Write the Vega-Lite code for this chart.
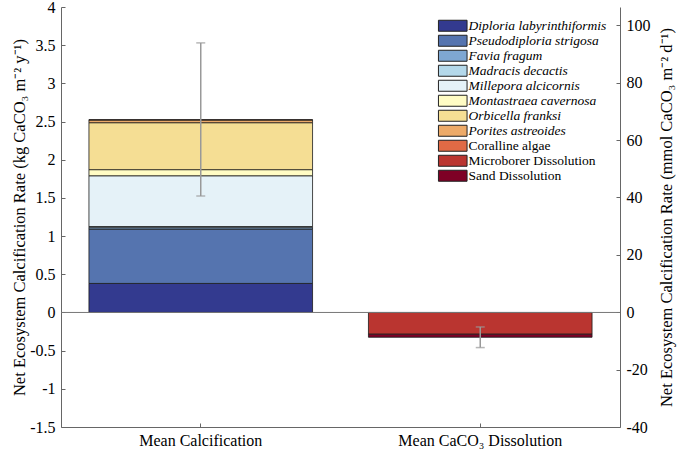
{
  "$schema": "https://vega.github.io/schema/vega-lite/v6.json",
  "description": "Net ecosystem calcification budget",
  "background": "white",
  "autosize": {"type": "none"},
  "padding": {"left": 61, "top": 7, "right": 59, "bottom": 26},
  "width": 559,
  "height": 420,
  "config": {
    "font": "Liberation Serif",
    "view": {"stroke": null},
    "axis": {
      "labelFont": "Liberation Serif",
      "titleFont": "Liberation Serif",
      "titleFontWeight": "normal",
      "labelColor": "black",
      "titleColor": "black",
      "domainColor": "#666666",
      "tickColor": "#666666",
      "labelOverlap": false,
      "grid": false
    }
  },
  "datasets": {
    "components": [
      {"group": "Mean Calcification", "component": "Diploria labyrinthiformis", "rank": 1, "value": 0.38},
      {"group": "Mean Calcification", "component": "Pseudodiploria strigosa", "rank": 2, "value": 0.71},
      {"group": "Mean Calcification", "component": "Favia fragum", "rank": 3, "value": 0.02},
      {"group": "Mean Calcification", "component": "Madracis decactis", "rank": 4, "value": 0.015},
      {"group": "Mean Calcification", "component": "Millepora alcicornis", "rank": 5, "value": 0.665},
      {"group": "Mean Calcification", "component": "Montastraea cavernosa", "rank": 6, "value": 0.08},
      {"group": "Mean Calcification", "component": "Orbicella franksi", "rank": 7, "value": 0.615},
      {"group": "Mean Calcification", "component": "Porites astreoides", "rank": 8, "value": 0.035},
      {"group": "Mean Calcification", "component": "Coralline algae", "rank": 9, "value": 0.005},
      {"group": "Mean CaCO₃ Dissolution", "component": "Microborer Dissolution", "rank": 10, "value": -0.285},
      {"group": "Mean CaCO₃ Dissolution", "component": "Sand Dissolution", "rank": 11, "value": -0.04}
    ],
    "errors": [
      {"group": "Mean Calcification", "lo": 1.525, "hi": 3.53},
      {"group": "Mean CaCO₃ Dissolution", "lo": -0.46, "hi": -0.19}
    ],
    "anchor": [{"v": 0}]
  },
  "layer": [
    {
      "layer": [
        {
          "data": {"name": "components"},
          "mark": {"type": "bar", "stroke": "#1a1a1a", "strokeWidth": 0.8},
          "encoding": {
            "x": {
              "field": "group",
              "type": "nominal",
              "sort": null,
              "scale": {"domain": ["Mean Calcification", "Mean CaCO₃ Dissolution"], "paddingInner": 0.2, "paddingOuter": 0.1},
              "axis": {"title": null, "labelAngle": 0, "labelFontSize": 16, "tickSize": -4, "labelPadding": 9}
            },
            "y": {
              "field": "value",
              "type": "quantitative",
              "stack": "zero",
              "scale": {"domain": [-1.5, 4], "nice": false, "zero": false},
              "axis": null
            },
            "color": {
              "field": "component",
              "type": "nominal",
              "scale": {
                "domain": [
                  "Diploria labyrinthiformis", "Pseudodiploria strigosa", "Favia fragum", "Madracis decactis",
                  "Millepora alcicornis", "Montastraea cavernosa", "Orbicella franksi", "Porites astreoides",
                  "Coralline algae", "Microborer Dissolution", "Sand Dissolution"
                ],
                "range": [
                  "#333a8f", "#5574af", "#7ea7d2", "#b4d8ea", "#e5f2f8", "#fffcc4",
                  "#f5de94", "#edaa68", "#e06a45", "#ba3530", "#7e0025"
                ]
              },
              "legend": {
                "title": null,
                "orient": "none",
                "legendX": 385,
                "legendY": 12,
                "symbolType": "M-2.6,-1H2.6V1H-2.6Z",
                "symbolSize": 121,
                "symbolStrokeColor": "#222222",
                "symbolStrokeWidth": 1,
                "symbolOpacity": 1,
                "labelFont": "Liberation Serif",
                "labelFontSize": 13.5,
                "labelColor": "black",
                "labelOffset": 9,
                "rowPadding": -1,
                "labelLimit": 200,
                "encode": {
                  "labels": {
                    "update": {
                      "fontStyle": {"signal": "indexof(['Coralline algae', 'Microborer Dissolution', 'Sand Dissolution'], datum.label) >= 0 ? 'normal' : 'italic'"}
                    }
                  }
                }
              }
            },
            "order": {"field": "rank", "type": "quantitative"}
          }
        },
        {
          "data": {"name": "anchor"},
          "mark": {"type": "rule", "color": "#777777", "strokeWidth": 1},
          "encoding": {"y": {"datum": 0, "type": "quantitative", "axis": null}}
        },
        {
          "data": {"name": "errors"},
          "mark": {"type": "rule", "color": "#999999", "strokeWidth": 1.5},
          "encoding": {
            "x": {"field": "group", "type": "nominal"},
            "y": {"field": "lo", "type": "quantitative", "axis": null},
            "y2": {"field": "hi"}
          }
        },
        {
          "data": {"name": "errors"},
          "mark": {"type": "tick", "color": "#999999", "size": 9, "thickness": 1.5},
          "encoding": {
            "x": {"field": "group", "type": "nominal"},
            "y": {"field": "lo", "type": "quantitative", "axis": null}
          }
        },
        {
          "data": {"name": "errors"},
          "mark": {"type": "tick", "color": "#999999", "size": 9, "thickness": 1.5},
          "encoding": {
            "x": {"field": "group", "type": "nominal"},
            "y": {"field": "hi", "type": "quantitative", "axis": null}
          }
        }
      ]
    },
    {
      "data": {"name": "anchor"},
      "mark": {"type": "rule", "opacity": 0},
      "encoding": {
        "y": {
          "field": "v",
          "type": "quantitative",
          "scale": {"domain": [-1.5, 4], "nice": false, "zero": false},
          "axis": {
            "orient": "left",
            "title": "Net Ecosystem Calcification Rate (kg CaCO₃ m⁻² y⁻¹)",
            "values": [-1.5, -1, -0.5, 0, 0.5, 1, 1.5, 2, 2.5, 3, 3.5, 4],
            "labelExpr": "replace(datum.label, '−', '-')",
            "format": "~g",
            "labelOverlap": false,
            "labelFont": "Liberation Serif",
            "labelFontSize": 16,
            "titleFontSize": 16.5,
            "tickSize": -4,
            "labelPadding": 10,
            "titlePadding": 2
          }
        }
      }
    },
    {
      "data": {"name": "anchor"},
      "mark": {"type": "rule", "opacity": 0},
      "encoding": {
        "y": {
          "field": "v",
          "type": "quantitative",
          "scale": {"domain": [-40, 106.4], "nice": false, "zero": false},
          "axis": {
            "orient": "right",
            "title": "Net Ecosystem Calcification Rate (mmol CaCO₃ m⁻² d⁻¹)",
            "values": [-40, -20, 0, 20, 40, 60, 80, 100],
            "labelExpr": "replace(datum.label, '−', '-')",
            "labelOverlap": false,
            "labelFont": "Liberation Serif",
            "labelFontSize": 16,
            "titleFontSize": 16.5,
            "titleAngle": 270,
            "titleBaseline": "top",
            "tickSize": -4,
            "labelPadding": 10,
            "titlePadding": 8
          }
        }
      }
    }
  ],
  "resolve": {"scale": {"y": "independent"}}
}
